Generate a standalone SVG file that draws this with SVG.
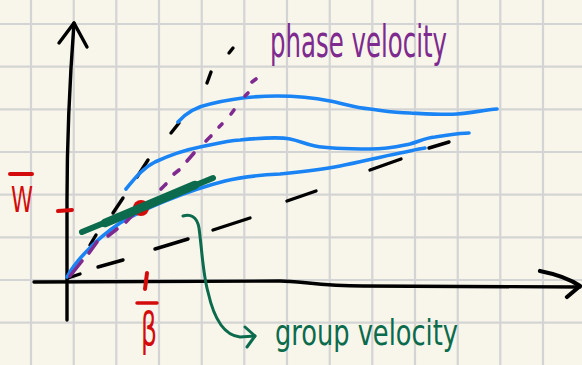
<svg xmlns="http://www.w3.org/2000/svg" width="582" height="365" viewBox="0 0 582 365">
<style>
.grid line{stroke:#d4d4d4;stroke-width:2.2}
.ink{fill:none;stroke-linecap:round;stroke-linejoin:round}
.blk{stroke:#000;stroke-width:3.4}
.blue{stroke:#1a84f5;stroke-width:3.6}
.pur{stroke:#7e2a8e;stroke-width:3.6}
.red{stroke:#d40b0b;stroke-width:4}
.grn{stroke:#0b6b4c}
.hand{font-family:"Liberation Sans Narrow","DejaVu Sans Condensed","Liberation Sans",sans-serif}
</style>
<rect width="582" height="365" fill="#f8f6eb"/>
<g id="grid" class="grid">
<line x1="31" y1="0" x2="31" y2="365"/><line x1="73.7" y1="0" x2="73.7" y2="365"/><line x1="116.3" y1="0" x2="116.3" y2="365"/><line x1="159" y1="0" x2="159" y2="365"/><line x1="201.7" y1="0" x2="201.7" y2="365"/><line x1="244.3" y1="0" x2="244.3" y2="365"/><line x1="287" y1="0" x2="287" y2="365"/><line x1="329.7" y1="0" x2="329.7" y2="365"/><line x1="372.3" y1="0" x2="372.3" y2="365"/><line x1="415" y1="0" x2="415" y2="365"/><line x1="457.7" y1="0" x2="457.7" y2="365"/><line x1="500.3" y1="0" x2="500.3" y2="365"/><line x1="543" y1="0" x2="543" y2="365"/>
<line x1="0" y1="24" x2="582" y2="24"/><line x1="0" y1="66.7" x2="582" y2="66.7"/><line x1="0" y1="109.3" x2="582" y2="109.3"/><line x1="0" y1="152" x2="582" y2="152"/><line x1="0" y1="194.7" x2="582" y2="194.7"/><line x1="0" y1="237.3" x2="582" y2="237.3"/><line x1="0" y1="280" x2="582" y2="280"/><line x1="0" y1="322.7" x2="582" y2="322.7"/>
</g>
<g id="axes" class="ink blk">
<path d="M67,320 L67,200 C67,140 69,90 74,23"/>
<path d="M59,43 L74,23 L87,47"/>
<path d="M34,282 L280,281 C300,281 320,286 363,286 L580,287"/>
<path d="M540,271 C555,274 570,279 580,286 L567,297" stroke-width="4.2"/>
</g>
<g id="dashes" class="ink blk">
<line x1="90" y1="245" x2="96" y2="235"/>
<line x1="113" y1="213" x2="123" y2="198"/>
<line x1="137" y1="177" x2="148" y2="160"/>
<line x1="171" y1="133" x2="179" y2="123"/>
<line x1="207" y1="83" x2="211" y2="72"/>
<line x1="229" y1="53" x2="233" y2="48"/>
<line x1="68" y1="278" x2="80" y2="274"/>
<line x1="98" y1="267" x2="123" y2="260"/>
<line x1="155" y1="249" x2="188" y2="239"/>
<line x1="213" y1="230" x2="250" y2="218"/>
<line x1="287" y1="201" x2="316" y2="191"/>
<line x1="370" y1="170" x2="401" y2="159"/>
<line x1="429" y1="148" x2="449" y2="142"/>
</g>
<g id="curves" class="ink blue">
<path d="M178,122 C185,114 195,107 210,104 C230,99 255,96 277,96 C300,96 315,98 330,101 C345,104 355,108 370,109 C385,111 395,113 410,113 C430,114 445,115 457,114 C470,113 485,110 497,109"/>
<path d="M126,189 C135,178 143,168 155,162 C170,155 185,150 200,147 C215,144 225,141 240,140 C260,138 280,137 290,139 C300,141 305,144 315,146 C325,148 340,149 370,149 C390,149 400,146 410,144 C420,141 425,138 435,137 C450,135 460,133 469,133"/>
<path d="M67,277 C72,268 78,260 86,252 C95,242 105,233 120,223 C135,214 150,207 165,201 C185,193 205,186 225,181 C245,176 260,175 280,174 C300,172 320,170 340,166 C360,162 380,157 400,153 C410,151 418,149 425,148"/>
</g>
<g id="phase-line" class="ink pur">
<line x1="70" y1="276" x2="82" y2="261"/>
<line x1="89" y1="253" x2="97" y2="242"/>
<line x1="108" y1="236" x2="117" y2="229"/>
<line x1="126" y1="222" x2="142" y2="205"/>
<line x1="161" y1="189" x2="166" y2="184"/>
<line x1="174" y1="174" x2="179" y2="170"/>
<line x1="187" y1="161" x2="194" y2="153"/>
<line x1="206" y1="141" x2="211" y2="136"/>
<line x1="219" y1="127" x2="222" y2="124"/>
<line x1="231" y1="114" x2="234" y2="110"/>
<line x1="245" y1="96" x2="248" y2="93"/>
<line x1="252" y1="82" x2="256" y2="79"/>
</g>
<g id="point">
<circle cx="141" cy="208" r="8" fill="#d40b0b"/>
</g>
<g id="tangent" class="ink grn">
<path d="M82,232 L213,178" stroke-width="6"/>
<path d="M105,223 L195,185" stroke-width="8.5"/>
</g>
<g id="group-arrow" class="ink grn" stroke-width="3">
<path d="M183,216 C190,214 197,216 199,228 C202,250 203,275 208,292 C212,310 220,335 240,337 L255,336"/>
<path d="M245,327 L255,336 L247,347"/>
</g>
<g id="ticks" class="ink red">
<line x1="58" y1="211" x2="72" y2="210"/>
<line x1="147" y1="273" x2="145" y2="289"/>
<line x1="10" y1="174" x2="32" y2="174"/>
<line x1="137" y1="303" x2="157" y2="303" stroke-width="3.5"/>
</g>
<g id="labels" class="hand">
<text x="11" y="212" font-size="35" fill="#d40b0b" textLength="22" lengthAdjust="spacingAndGlyphs">W</text>
<text x="141" y="345" font-size="46" fill="#d40b0b" textLength="16" lengthAdjust="spacingAndGlyphs">β</text>
<text x="270" y="57" font-size="44" fill="#7e2a8e" textLength="177" lengthAdjust="spacingAndGlyphs">phase velocity</text>
<text x="275" y="345" font-size="36" fill="#0b6b4c" textLength="183" lengthAdjust="spacingAndGlyphs">group velocity</text>
</g>
</svg>
